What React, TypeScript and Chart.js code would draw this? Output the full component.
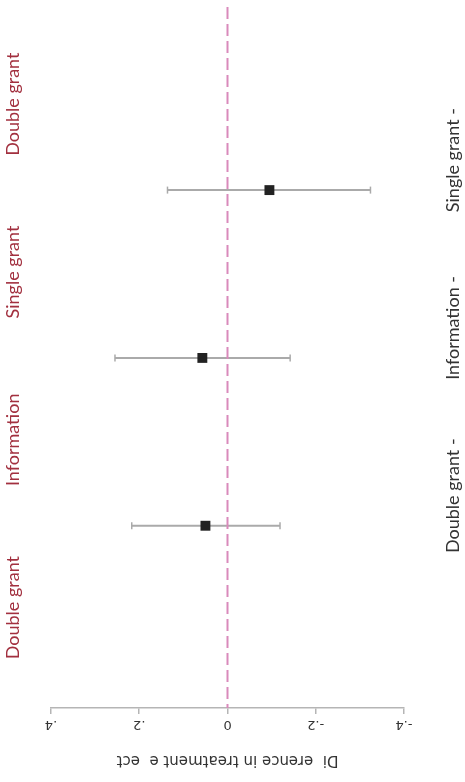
import React, { useEffect, useRef } from "react";
import { Chart, registerables } from "chart.js";

Chart.register(...registerables);

// Rows, top to bottom (index 0 at top)
const categories = ["Single grant -", "Information -", "Double grant -"];
const estimates = [-0.095, 0.057, 0.05];
const ciUpper = [0.136, 0.255, 0.217];
const ciLower = [-0.324, -0.142, -0.119];

// Group labels on the left side, at half-row positions
const groupLabels = ["Double grant", "Single grant", "Information", "Double grant"];
const groupPositions = [-0.5, 0.5, 1.5, 2.5];

const xTicks = [0.4, 0.2, 0, -0.2, -0.4];
const xTickLabels = [".4", ".2", "0", "-.2", "-.4"];
const axisTitle = "Di  erence in treatment e  ect";

const Y_MIN = -1.091;
const Y_MAX = 3.086;

const labelPlugin = {
  id: "rotatedLabels",
  afterDraw(chart: any) {
    const ctx = chart.ctx;
    const xs = chart.scales.x;
    const ys = chart.scales.y;
    ctx.save();
    // x tick labels rotated 180
    ctx.fillStyle = "#333333";
    ctx.font = "13px 'DejaVu Sans'";
    ctx.textAlign = "center";
    ctx.textBaseline = "middle";
    xTicks.forEach((v, i) => {
      const px = xs.getPixelForValue(v);
      ctx.save();
      ctx.translate(px, chart.chartArea.bottom + 16);
      ctx.rotate(Math.PI);
      ctx.fillText(xTickLabels[i], 0, 0);
      ctx.restore();
    });
    // axis title rotated 180
    ctx.font = "15px 'DejaVu Sans'";
    ctx.save();
    ctx.translate((xs.left + xs.right) / 2, chart.chartArea.bottom + 52);
    ctx.rotate(Math.PI);
    ctx.fillText(axisTitle, 0, 0);
    ctx.restore();
    // left group labels
    ctx.fillStyle = "#a2303f";
    ctx.font = "18px Lato";
    groupLabels.forEach((t, i) => {
      const py = ys.getPixelForValue(groupPositions[i]);
      ctx.save();
      ctx.translate(13, py - 2);
      ctx.rotate(-Math.PI / 2);
      ctx.fillText(t, 0, 0);
      ctx.restore();
    });
    // right category labels
    ctx.fillStyle = "#333333";
    categories.forEach((t, i) => {
      const py = ys.getPixelForValue(i);
      ctx.save();
      ctx.translate(453, py - 30);
      ctx.rotate(-Math.PI / 2);
      ctx.fillText(t, 0, 0);
      ctx.restore();
    });
    ctx.restore();
  },
};

export default function App() {
  const ref = useRef<HTMLCanvasElement | null>(null);
  useEffect(() => {
    document.body.style.margin = "0";
    const canvas = ref.current;
    if (!canvas) return;
    const ciDatasets = categories.map((_, i) => ({
      type: "line" as const,
      data: [
        { x: ciUpper[i], y: i },
        { x: ciLower[i], y: i },
      ],
      borderColor: "#aaaaaa",
      borderWidth: 2,
      pointStyle: "line",
      rotation: 90,
      pointRadius: 3.5,
      pointBorderWidth: 1.5,
      pointBorderColor: "#aaaaaa",
      pointBackgroundColor: "#aaaaaa",
      order: 3,
    }));
    const chart = new Chart(canvas, {
      type: "scatter",
      data: {
        datasets: [
          {
            type: "line" as const,
            data: [
              { x: 0, y: Y_MIN },
              { x: 0, y: Y_MAX },
            ],
            borderColor: "#d98abb",
            borderWidth: 2,
            borderDash: [12, 5],
            pointRadius: 0,
            order: 2,
          },
          ...ciDatasets,
          {
            type: "scatter" as const,
            data: estimates.map((v, i) => ({ x: v, y: i })),
            pointStyle: "rect",
            pointRadius: 7,
            backgroundColor: "#222222",
            borderColor: "#222222",
            borderWidth: 0,
            order: 1,
          },
        ] as any,
      },
      options: {
        animation: false,
        responsive: false,
        events: [],
        layout: { padding: { left: 51, right: 61, top: 0, bottom: 68 } },
        plugins: {
          legend: { display: false },
          tooltip: { enabled: false },
        },
        scales: {
          x: {
            type: "linear",
            position: "bottom",
            reverse: true,
            min: -0.4,
            max: 0.4,
            afterBuildTicks: (s: any) => {
              s.ticks = xTicks.map((v) => ({ value: v }));
            },
            grid: {
              drawOnChartArea: false,
              drawTicks: true,
              tickLength: 6,
              color: "#b5b5b5",
              lineWidth: 1.5,
            },
            border: { display: true, color: "#b5b5b5", width: 1.5 },
            ticks: { display: false },
          },
          y: {
            type: "linear",
            reverse: true,
            min: Y_MIN,
            max: Y_MAX,
            display: false,
          },
        },
      },
      plugins: [labelPlugin],
    });
    return () => chart.destroy();
  }, []);
  return (
    <div style={{ width: 465, height: 782 }}>
      <canvas ref={ref} width={465} height={782} style={{ display: "block" }} />
    </div>
  );
}
